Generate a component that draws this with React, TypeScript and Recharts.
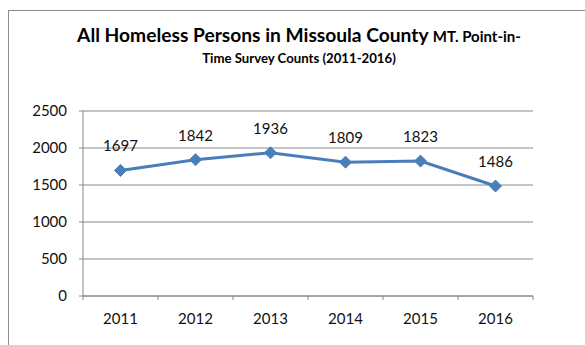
import { LineChart, Line, XAxis, YAxis, CartesianGrid, LabelList } from "recharts";

const years = ["2011", "2012", "2013", "2014", "2015", "2016"];
const counts = [1697, 1842, 1936, 1809, 1823, 1486];
const yTicks = [0, 500, 1000, 1500, 2000, 2500];

const data = years.map((year, i) => ({ year, count: counts[i] }));

const FONT = "Lato, 'Open Sans', sans-serif";
const BLUE = "#4A7EBB";
const GRAY = "#888888";
const TICK_SIZE = 4;
const X_TICK_MARGIN = 13;

const Diamond = (p: any) => {
  const { cx, cy, index } = p;
  if (cx == null || cy == null) return <g key={index} />;
  const r = 6;
  return (
    <polygon
      key={index}
      points={`${cx},${cy - r} ${cx + r},${cy} ${cx},${cy + r} ${cx - r},${cy}`}
      fill={BLUE}
      stroke={BLUE}
    />
  );
};

// category label at the band centre, tick marks on the band edges (Excel style)
const YearTick = (p: any) => {
  const { x, y, payload, width, visibleTicksCount, index } = p;
  const half = width / visibleTicksCount / 2;
  const axisY = y - TICK_SIZE - X_TICK_MARGIN;
  return (
    <g>
      <line x1={x - half} x2={x - half} y1={axisY} y2={axisY + TICK_SIZE} stroke={GRAY} />
      {index === visibleTicksCount - 1 && (
        <line x1={x + half} x2={x + half} y1={axisY} y2={axisY + TICK_SIZE} stroke={GRAY} />
      )}
      <text x={x} y={y} dy="0.71em" textAnchor="middle" fill="#111" fontSize={15} fontFamily={FONT}>
        {payload.value}
      </text>
    </g>
  );
};

export default function App() {
  return (
    <div style={{ position: "fixed", left: 0, top: 0, width: 585, height: 345, background: "#fff", overflow: "hidden" }}>
      <div style={{ position: "absolute", left: 8, top: 10, width: 600, height: 400, border: "1px solid #8c8c8c", boxSizing: "border-box" }} />
      <div
        style={{
          position: "absolute", left: 8, top: 25, width: 582, textAlign: "center",
          fontFamily: FONT, fontWeight: 700, color: "#000", lineHeight: "20px", whiteSpace: "nowrap",
        }}
      >
        <span style={{ fontSize: 19.2 }}>All Homeless Persons in Missoula County </span>
        <span style={{ fontSize: 15 }}>MT. Point-in-</span>
      </div>
      <div
        style={{
          position: "absolute", left: 8, top: 48, width: 582, textAlign: "center",
          fontFamily: FONT, fontWeight: 700, color: "#000", lineHeight: "20px", fontSize: 13.2,
        }}
      >
        Time Survey Counts (2011-2016)
      </div>
      <div style={{ position: "absolute", left: 0, top: 0 }}>
        <LineChart width={585} height={345} data={data} margin={{ top: 111, right: 52, bottom: 19, left: 0 }}>
          <CartesianGrid horizontal vertical={false} stroke={GRAY} strokeWidth={1} />
          <XAxis
            dataKey="year"
            type="category"
            padding={{ left: 37.5, right: 37.5 }}
            axisLine={{ stroke: GRAY }}
            tickLine={false}
            tickSize={TICK_SIZE}
            tickMargin={X_TICK_MARGIN}
            height={30}
            interval={0}
            tick={<YearTick />}
          />
          <YAxis
            domain={[0, 2500]}
            ticks={yTicks}
            width={83}
            axisLine={{ stroke: GRAY }}
            tickLine={{ stroke: GRAY }}
            tickSize={TICK_SIZE}
            tickMargin={12}
            tick={{ fill: "#111", fontSize: 15, fontFamily: FONT }}
          />
          <Line
            type="linear"
            dataKey="count"
            stroke={BLUE}
            strokeWidth={3}
            dot={Diamond}
            activeDot={false}
            isAnimationActive={false}
          >
            <LabelList dataKey="count" position="top" offset={19} fill="#111" fontSize={15} fontFamily={FONT} />
          </Line>
        </LineChart>
      </div>
    </div>
  );
}
